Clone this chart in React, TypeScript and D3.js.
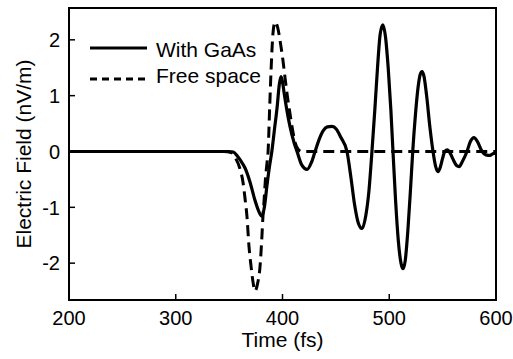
import React from "react";
import * as d3 from "d3";

const gaasTime = [200, 340, 350, 354, 358, 361, 365, 369.6, 374, 377.5, 380.8, 383, 385.5, 387.8, 390, 392.5, 395, 397, 398.6, 400, 401.5, 404, 407, 410.8, 413.6, 418, 423, 427, 430.5, 434, 438, 442, 446.4, 450.5, 454.5, 460.4, 464, 467.5, 471, 474.5, 478, 481, 483.8, 486.5, 489, 491.5, 494, 496.5, 499, 501.5, 503.5, 506, 508.5, 511, 513, 515, 517.5, 520, 522, 524.5, 527, 529, 530.7, 532.5, 535, 538, 541, 543.5, 545.7, 548, 550, 552, 554.5, 557, 560, 563, 565.5, 568.5, 572.8, 576, 579.4, 582.5, 587, 590.5, 594.4, 597, 600];
const gaasField = [0, 0, 0, -0.01, -0.09, -0.17, -0.3, -0.55, -0.86, -1.06, -1.16, -1.0, -0.6, -0.27, 0, 0.4, 0.8, 1.2, 1.34, 1.25, 1.05, 0.75, 0.45, 0.16, 0, -0.24, -0.32, -0.2, 0, 0.2, 0.37, 0.44, 0.45, 0.4, 0.26, 0, -0.45, -0.95, -1.28, -1.38, -1.15, -0.7, 0, 0.75, 1.5, 2.1, 2.27, 2.05, 1.5, 0.75, 0, -0.9, -1.6, -2.0, -2.1, -1.95, -1.4, -0.65, 0, 0.65, 1.15, 1.38, 1.43, 1.35, 1.0, 0.45, 0, -0.27, -0.36, -0.27, -0.12, 0, 0.03, -0.03, -0.15, -0.25, -0.27, -0.18, 0, 0.18, 0.25, 0.18, 0, -0.06, -0.07, -0.04, -0.03];

const freeTime = [200, 345, 352, 356, 360, 363, 365, 366.7, 368.6, 370.5, 372.4, 374.2, 376.5, 379, 380.5, 381.7, 382.8, 384, 385.5, 386.5, 388, 389.5, 391, 393, 395.5, 398, 400.5, 402.5, 404.5, 407, 409.5, 412, 415, 418, 600];
const freeField = [0, 0, -0.02, -0.12, -0.3, -0.55, -0.86, -1.16, -1.7, -2.05, -2.34, -2.5, -2.38, -2.05, -1.6, -1.16, -0.86, -0.5, -0.2, 0, 0.8, 1.55, 2.1, 2.32, 2.22, 1.95, 1.62, 1.3, 1.0, 0.68, 0.38, 0.15, 0.03, 0, 0];

const xTicks = [200, 300, 400, 500, 600];
const yTicks = [-2, -1, 0, 1, 2];
const seriesNames = ["With GaAs", "Free space"];
const xLabel = "Time (fs)";
const yLabel = "Electric Field (nV/m)";

const W = 513, H = 359;
const left = 69, right = 496, top = 8, bottom = 300;
const FONT = "'Liberation Sans', Arial, Helvetica, sans-serif";

export default function App() {
  const x = d3.scaleLinear().domain([200, 600]).range([left, right]);
  const y = d3.scaleLinear().domain([-2.66, 2.57]).range([bottom, top]);
  const line = d3
    .line<[number, number]>()
    .x((d) => x(d[0]))
    .y((d) => y(d[1]))
    .curve(d3.curveMonotoneX);
  const gaas = gaasTime.map((t, i) => [t, gaasField[i]] as [number, number]);
  const free = freeTime.map((t, i) => [t, freeField[i]] as [number, number]);

  return (
    <svg
      width={W}
      height={H}
      style={{ position: "absolute", left: 0, top: 0, background: "#fff" }}
      fontFamily={FONT}
    >
      <rect x={0} y={0} width={W} height={H} fill="#fff" />
      <defs>
        <clipPath id="plot">
          <rect x={left} y={top} width={right - left} height={bottom - top} />
        </clipPath>
      </defs>
      <g clipPath="url(#plot)">
        <path d={line(free) || ""} fill="none" stroke="#000" strokeWidth={3} strokeDasharray="11,6" />
        <path d={line(gaas) || ""} fill="none" stroke="#000" strokeWidth={3.2} />
      </g>
      <rect x={left} y={top} width={right - left} height={bottom - top} fill="none" stroke="#000" strokeWidth={2} />
      {yTicks.map((v) => (
        <g key={"y" + v}>
          <line x1={left} x2={left + 6} y1={y(v)} y2={y(v)} stroke="#000" strokeWidth={1.5} />
          <text x={60} y={y(v)} dy="0.36em" textAnchor="end" fontSize={20} fill="#000">
            {v < 0 ? "-" + Math.abs(v) : String(v)}
          </text>
        </g>
      ))}
      {xTicks.map((v) => (
        <g key={"x" + v}>
          <line x1={x(v)} x2={x(v)} y1={bottom} y2={bottom - 6} stroke="#000" strokeWidth={1.5} />
          <text x={x(v)} y={324.5} textAnchor="middle" fontSize={20} fill="#000">
            {v}
          </text>
        </g>
      ))}
      <text x={(left + right) / 2} y={347} textAnchor="middle" fontSize={21} fill="#000">
        {xLabel}
      </text>
      <text
        transform={`translate(31, ${(top + bottom) / 2}) rotate(-90)`}
        textAnchor="middle"
        fontSize={21}
        fill="#000"
      >
        {yLabel}
      </text>
      <line x1={90} x2={147} y1={48} y2={48} stroke="#000" strokeWidth={3} />
      <text x={156} y={57} fontSize={21} fill="#000">{seriesNames[0]}</text>
      <line x1={90} x2={149} y1={79} y2={79} stroke="#000" strokeWidth={3} strokeDasharray="7,5" />
      <text x={156} y={83} fontSize={21} fill="#000">{seriesNames[1]}</text>
    </svg>
  );
}
